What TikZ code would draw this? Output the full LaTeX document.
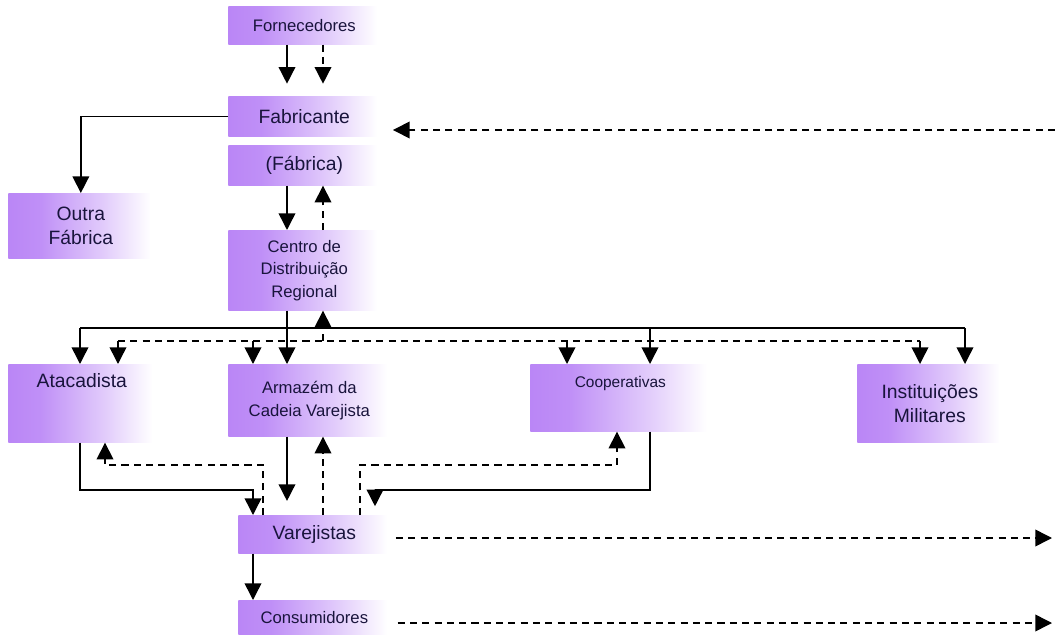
\documentclass[tikz,border=0pt]{standalone}
\usepackage{fontspec}
\setmainfont{Liberation Sans}
\usetikzlibrary{arrows.meta}
\definecolor{roxo}{RGB}{186,134,246}
\definecolor{texto}{RGB}{25,20,60}
\pgfdeclarehorizontalshading{degrade}{100bp}{color(0bp)=(roxo); color(25bp)=(roxo); color(36bp)=(roxo!92!white); color(58bp)=(roxo!42!white); color(74bp)=(white); color(100bp)=(white)}
\tikzset{
  caixa/.style={rectangle, shade, shading=degrade, inner sep=0pt, anchor=north west, align=center, text=texto, font=\fontsize{11}{13.5}\selectfont},
  pequena/.style={font=\fontsize{9.5}{12.8}\selectfont},
  fluxo/.style={line width=0.85pt, -{Triangle[length=9.5pt,width=9.5pt]}},
  retorno/.style={fluxo, dash pattern=on 4pt off 3pt}
}
\begin{document}
\begin{tikzpicture}[x=0.02cm, y=-0.02cm]
\useasboundingbox (0,0) rectangle (1055,635);
% caixas
\node (forn)[caixa, pequena, minimum width=3.04cm, minimum height=0.76cm] at (228,6) {Fornecedores};
\node (fabr)[caixa, minimum width=3.04cm, minimum height=0.8cm] at (228,96) {Fabricante};
\node (fabrica)[caixa, minimum width=3.04cm, minimum height=0.8cm] at (228,145) {(Fábrica)};
\node (outra)[caixa, minimum width=2.9cm, minimum height=1.3cm] at (8,193) {Outra\\Fábrica};
\node (centro)[caixa, pequena, minimum width=3.04cm, minimum height=1.6cm] at (228,230) {Centro de\\Distribuição\\Regional};
\node (atac)[caixa, minimum width=2.94cm, text height=0.46cm, text depth=1.1cm] at (8,364) {Atacadista};
\node (armaz)[caixa, pequena, minimum width=3.24cm, minimum height=1.44cm] at (228,364) {Armazém da\\Cadeia Varejista};
\node (coop)[caixa, pequena, font=\fontsize{8.8}{11}\selectfont, minimum width=3.6cm, text height=0.46cm, text depth=0.88cm] at (530,364) {Cooperativas};
\node (inst)[caixa, minimum width=2.9cm, minimum height=1.56cm] at (857,364) {Instituições\\Militares};
\node (varej)[caixa, minimum width=3.04cm, minimum height=0.76cm] at (238,515) {Varejistas};
\node (consum)[caixa, pequena, minimum width=3.04cm, minimum height=0.7cm] at (238,600) {Consumidores};
% colunas e linhas de apoio
\coordinate (cA) at (80,0);
\coordinate (cB) at (105,0);
\coordinate (cD) at (253,0);
\coordinate (cE) at (263,0);
\coordinate (cF) at (287,0);
\coordinate (cG) at (323,0);
\coordinate (cH) at (360,0);
\coordinate (cI) at (375,0);
\coordinate (cJ) at (567,0);
\coordinate (cK) at (617,0);
\coordinate (cL) at (650,0);
\coordinate (rUp) at (0,465);
\coordinate (rDown) at (0,490);
\coordinate (barraE) at (80,328);
\coordinate (barraD) at (965,328);
\coordinate (tracoE) at (118,341);
\coordinate (tracoD) at (920,341);
\coordinate (borda1) at (1055,130);
\coordinate (borda2) at (1052,538);
\coordinate (borda3) at (1052,623);
% fornecedores - fabricante
\draw[fluxo, shorten >=7pt] (forn.south -| cF) -- (fabr.north -| cF);
\draw[retorno, shorten >=7pt] (forn.south -| cG) -- (fabr.north -| cG);
\draw[retorno, shorten >=7pt] (borda1) -- (fabr.east |- borda1);
\draw[fluxo] (fabr.west) -| (outra.north);
\draw[fluxo] (fabrica.south -| cF) -- (centro.north -| cF);
\draw[retorno] (centro.north -| cG) -- (fabrica.south -| cG);
% distribuicao
\draw[fluxo] (centro.south -| cF) -- (armaz.north -| cF);
\draw[line width=0.85pt] (barraE) -- (barraD);
\draw[fluxo] (barraE) -- (atac.north -| barraE);
\draw[fluxo] (cL |- barraE) -- (coop.north -| cL);
\draw[fluxo] (barraD) -- (inst.north -| barraD);
\draw[line width=0.85pt, dash pattern=on 4pt off 3pt] (tracoE) -- (tracoD);
\draw[retorno] (tracoE) -- (atac.north -| tracoE);
\draw[retorno] (cD |- tracoE) -- (armaz.north -| cD);
\draw[retorno] (cJ |- tracoE) -- (coop.north -| cJ);
\draw[retorno] (tracoD) -- (inst.north -| tracoD);
\draw[retorno] (cG |- tracoE) -- (centro.south -| cG);
% varejistas
\draw[fluxo] (atac.south -| cA) |- (cD |- rDown) -- (varej.north -| cD);
\draw[retorno] (varej.north -| cE) |- (cB |- rUp) -- (atac.south -| cB);
\draw[fluxo, shorten >=8pt] (armaz.south -| cF) -- (varej.north -| cF);
\draw[retorno] (varej.north -| cG) -- (armaz.south -| cG);
\draw[fluxo, shorten >=5pt] (coop.south -| cL) |- (cI |- rDown) -- (varej.north -| cI);
\draw[retorno] (varej.north -| cH) |- (cK |- rUp) -- (coop.south -| cK);
\draw[retorno, shorten <=3pt] (varej.east |- borda2) -- (borda2);
\draw[fluxo] (varej.south -| cD) -- (consum.north -| cD);
\draw[retorno, shorten <=4pt] (consum.east |- borda3) -- (borda3);
\end{tikzpicture}
\end{document}
